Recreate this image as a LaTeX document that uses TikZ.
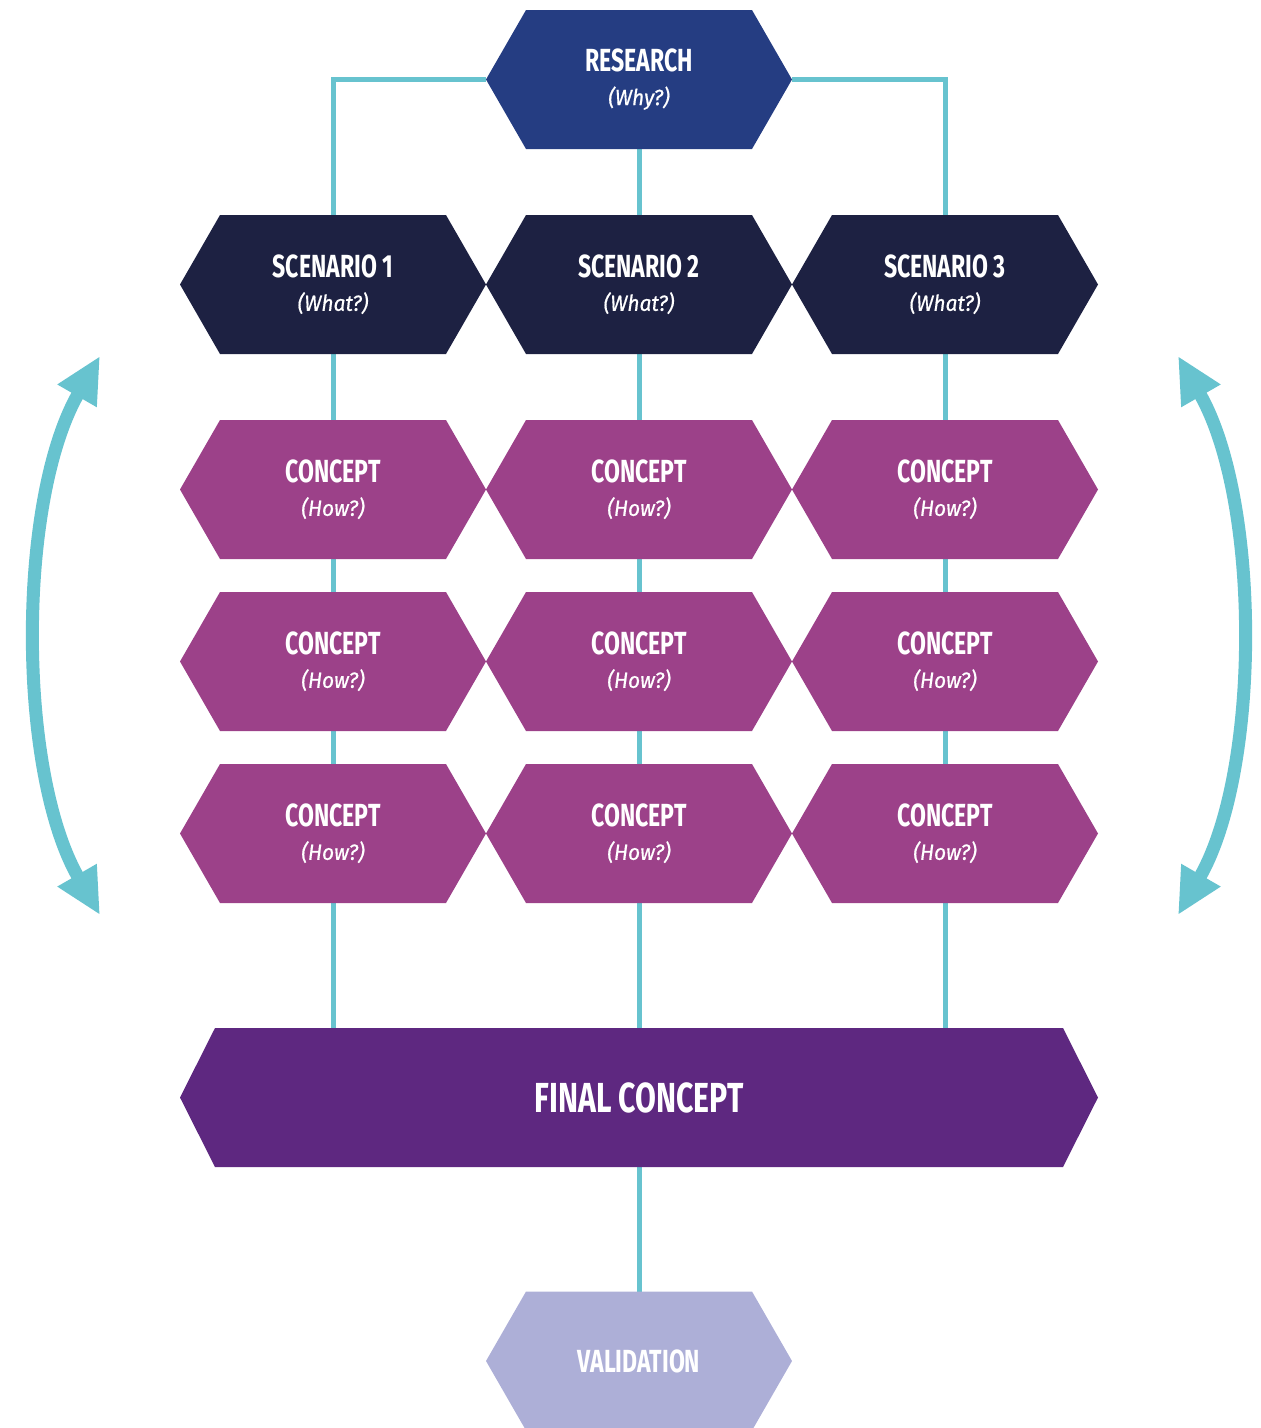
\documentclass[tikz,border=0pt]{standalone}
\usepackage{fontspec}
\setmainfont{Fira Sans}
\newfontfamily\condfont{Fira Sans}[FakeStretch=0.72]
\newfontfamily\condit{Fira Sans}[FakeStretch=0.95,FakeBold=0.6]
\usetikzlibrary{arrows.meta}

\definecolor{linkteal}{HTML}{67C3CF}
\definecolor{researchblue}{HTML}{253D82}
\definecolor{scenarionavy}{HTML}{1D2142}
\definecolor{conceptmagenta}{HTML}{9C4189}
\definecolor{finalpurple}{HTML}{5E2880}
\definecolor{validlilac}{HTML}{ADAFD7}

\newcommand\ttl[1]{{\condfont\bfseries\fontsize{32}{32}\selectfont #1}}
\newcommand\bigttl[1]{{\condfont\bfseries\fontsize{42}{42}\selectfont #1}}
\newcommand\subt[1]{{\condit\itshape\fontsize{22}{22}\selectfont #1}}

% filled hexagon behind a named node: name, colour, corner inset
\newcommand\hexfill[3]{%
  \fill[#2] (#1.west) -- ([xshift=#3pt]#1.north west) -- ([xshift=-#3pt]#1.north east)
    -- (#1.east) -- ([xshift=-#3pt]#1.south east) -- ([xshift=#3pt]#1.south west) -- cycle;}

\pgfdeclarelayer{bg}
\pgfsetlayers{bg,main}

\tikzset{
  hexbox/.style={minimum width=306pt, minimum height=139pt, inner sep=0pt, outer sep=0pt,
    align=center, text=white},
  link/.style={draw=linkteal, line width=5pt},
  loop arrow/.style={draw=linkteal, line width=13pt,
    {Triangle[length=46pt,width=42pt]}-{Triangle[length=46pt,width=42pt]}},
}

\begin{document}
\begin{tikzpicture}[x=1pt,y=-1pt]
\useasboundingbox (0,0) rectangle (1261,1428);
\clip (0,0) rectangle (1261,1428);

% top of the tree
\node[hexbox] (res) at (639,79.5) {\ttl{RESEARCH}\\[13pt]\subt{(Why?)}};

% scenarios
\node[hexbox] (s1) at (333,284.5) {\ttl{SCENARIO 1}\\[13pt]\subt{(What?)}};
\node[hexbox] (s2) at (639,284.5) {\ttl{SCENARIO 2}\\[13pt]\subt{(What?)}};
\node[hexbox] (s3) at (945,284.5) {\ttl{SCENARIO 3}\\[13pt]\subt{(What?)}};

% concepts, three per scenario
\foreach \c/\x in {1/333,2/639,3/945}{
  \foreach \r/\y in {1/489.5,2/661.5,3/833.5}{
    \node[hexbox] (c\c\r) at (\x,\y) {\ttl{CONCEPT}\\[13pt]\subt{(How?)}};
  }
}

% final concept and validation
\node[hexbox, minimum width=918pt] (fin) at (639,1097.5) {\bigttl{FINAL CONCEPT}};
\node[hexbox] (val) at (639,1361) {\ttl{VALIDATION}};

\begin{pgfonlayer}{bg}
  % connectors
  \draw[link] (res.west) -| (s1.north);
  \draw[link] (res.east) -| (s3.north);
  \draw[link] (res.south) -- (s2.north);
  \foreach \c in {1,2,3}{
    \draw[link] (s\c.south) -- (c\c1.north);
    \draw[link] (c\c1.south) -- (c\c2.north);
    \draw[link] (c\c2.south) -- (c\c3.north);
    \draw[link] (c\c3.south) -- (c\c3.south |- fin.north);
  }
  \draw[link] (fin.south) -- (val.north);

  % hexagon fills
  \hexfill{res}{researchblue}{40}
  \hexfill{s1}{scenarionavy}{40}
  \hexfill{s2}{scenarionavy}{40}
  \hexfill{s3}{scenarionavy}{40}
  \foreach \c in {1,2,3}{
    \foreach \r in {1,2,3}{
      \hexfill{c\c\r}{conceptmagenta}{40}
    }
  }
  \hexfill{fin}{finalpurple}{35}
  \hexfill{val}{validlilac}{40}
\end{pgfonlayer}

% iteration arrows on both sides
\coordinate (lt) at (100,356);
\coordinate (lb) at (100,915);
\coordinate (rt) at (1178,356);
\coordinate (rb) at (1178,915);
\draw[loop arrow] (lt) .. controls (17,500) and (17,771) .. (lb);
\draw[loop arrow] (rt) .. controls (1261,500) and (1261,771) .. (rb);
\end{tikzpicture}
\end{document}
